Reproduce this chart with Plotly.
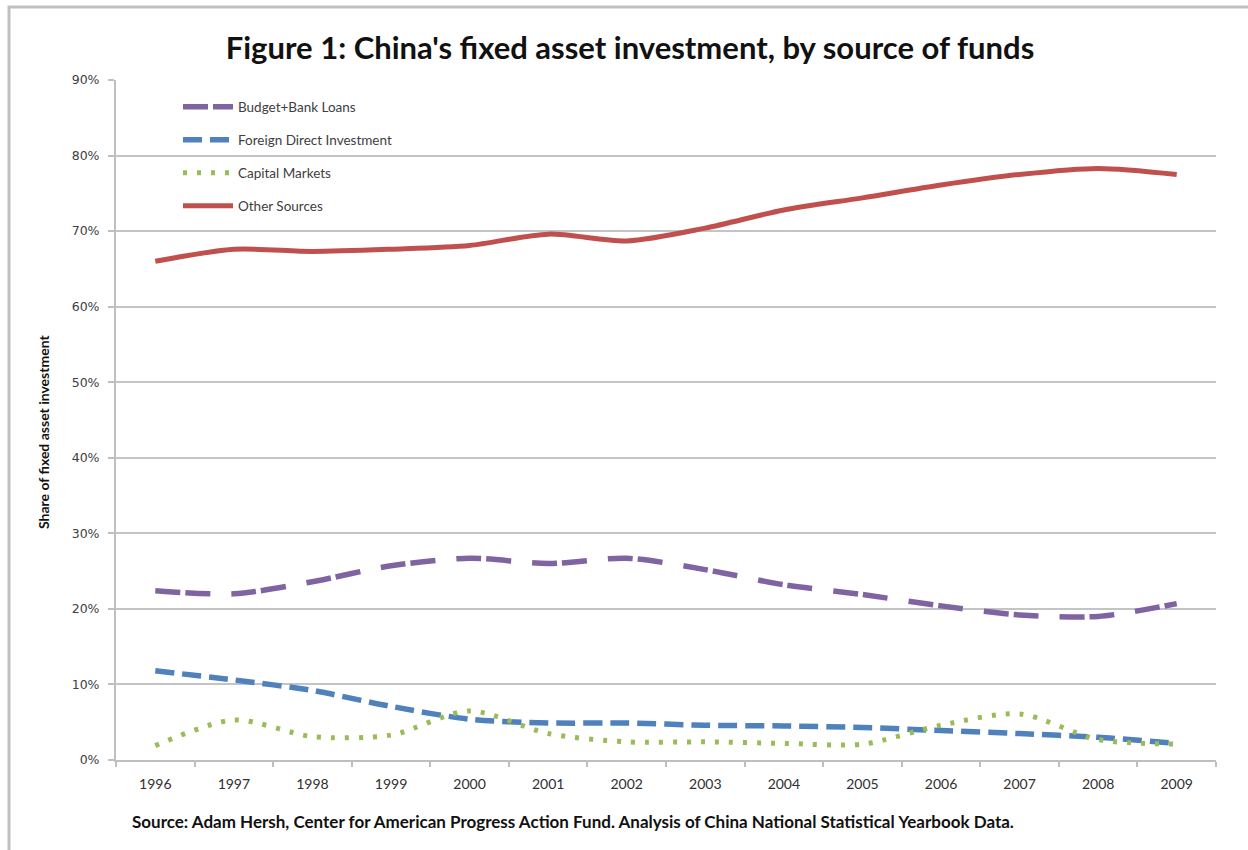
import plotly.graph_objects as go

years = ["1996", "1997", "1998", "1999", "2000", "2001", "2002",
         "2003", "2004", "2005", "2006", "2007", "2008", "2009"]
budget_bank = [22.4, 22.0, 23.6, 25.7, 26.7, 26.0, 26.7, 25.2, 23.2, 21.9, 20.4, 19.2, 19.0, 20.7]
fdi = [11.8, 10.6, 9.2, 7.1, 5.4, 4.9, 4.9, 4.6, 4.5, 4.3, 3.9, 3.5, 3.0, 2.2]
capital_markets = [1.9, 5.3, 3.1, 3.3, 6.5, 3.5, 2.4, 2.4, 2.2, 2.1, 4.6, 6.1, 2.7, 2.1]
other_sources = [66.0, 67.6, 67.3, 67.6, 68.1, 69.6, 68.7, 70.4, 72.8, 74.4, 76.1, 77.5, 78.3, 77.5]

series_names = ["Budget+Bank Loans", "Foreign Direct Investment", "Capital Markets", "Other Sources"]
y_ticks = [0, 10, 20, 30, 40, 50, 60, 70, 80, 90]

W, H = 1248, 850
L, R, T, B = 116, 1216, 80, 760
pw, ph = R - L, B - T

def px_x(x):
    return (x - L) / pw

def px_y(y):
    return (B - y) / ph

fig = go.Figure()
styles = [
    dict(color="#8064A2", width=5.5, dash="25px,5px,25px,21px"),
    dict(color="#4F81BD", width=5.5, dash="19px,8px"),
    dict(color="#9BBB59", width=5, dash="4px,10px"),
    dict(color="#C0504D", width=5, dash="solid"),
]
data = [budget_bank, fdi, capital_markets, other_sources]
legend_ids = ["legend", "legend2", "legend3", "legend4"]
for name, vals, st, lg in zip(series_names, data, styles, legend_ids):
    fig.add_trace(go.Scatter(
        x=years, y=vals, name=name, mode="lines",
        line=dict(shape="spline", smoothing=0.8, **st),
        legend=lg,
    ))

legend_centers = [107, 140, 173, 206]
legend_common = dict(
    xanchor="left", yanchor="middle", bgcolor="rgba(0,0,0,0)",
    font=dict(family="Lato", size=13.5, color="#404040"),
    itemwidth=50, borderwidth=0,
)
layout_legends = {}
for lg, cy in zip(legend_ids, legend_centers):
    layout_legends[lg] = dict(x=px_x(178), y=px_y(cy), **legend_common)

fig.update_layout(
    width=W, height=H,
    margin=dict(l=L, r=W - R, t=T, b=H - B),
    paper_bgcolor="white", plot_bgcolor="white",
    showlegend=True,
    title=dict(
        text="<b>Figure 1: China's fixed asset investment, by source of funds</b>",
        x=630 / W, xref="container", xanchor="center",
        y=1 - 48 / H, yref="container", yanchor="middle",
        font=dict(family="Lato", size=31, color="#111111"),
    ),
    xaxis=dict(
        type="category", range=[-0.5, 13.5],
        showgrid=False, showline=True, linecolor="#BFBFBF", linewidth=2,
        ticks="outside", tickson="boundaries", ticklen=5, tickcolor="#BFBFBF", tickwidth=2,
        tickfont=dict(family="Lato", size=14, color="#303030"),
        ticklabelstandoff=10,
        zeroline=False,
    ),
    yaxis=dict(
        range=[0, 90], tickvals=y_ticks, ticktext=[f"{v}%" for v in y_ticks],
        showgrid=True, gridcolor="#C4C4C4", gridwidth=2,
        showline=True, linecolor="#BFBFBF", linewidth=2,
        ticks="outside", ticklen=6, tickcolor="#BFBFBF", tickwidth=2,
        tickfont=dict(family="DejaVu Sans", size=12.5, color="#404040"),
        ticklabelstandoff=6,
        zeroline=False,
        title=dict(text=""),
    ),
    **layout_legends,
    shapes=[
        # legend background masking the gridline
        dict(type="rect", xref="paper", yref="paper",
             x0=px_x(141), x1=px_x(475), y0=px_y(90), y1=px_y(225),
             fillcolor="white", line=dict(width=0), layer="between"),
        # outer chart frame
        dict(type="rect", xref="paper", yref="paper",
             x0=px_x(9), x1=px_x(1260), y0=px_y(870), y1=px_y(7),
             fillcolor="rgba(0,0,0,0)", line=dict(color="#C0C0C0", width=3),
             layer="below"),
    ],
    annotations=[
        dict(
            text="<b>Source: Adam Hersh, Center for American Progress Action Fund. Analysis of China National Statistical Yearbook Data.</b>",
            xref="paper", yref="paper", x=px_x(130), y=px_y(822),
            xanchor="left", yanchor="middle", showarrow=False,
            font=dict(family="Lato", size=17, color="#111111"),
        ),
        dict(
            text="<b>Share of fixed asset investment</b>",
            xref="paper", yref="paper", x=px_x(44), y=px_y(432),
            xanchor="center", yanchor="middle", showarrow=False, textangle=-90,
            font=dict(family="Lato", size=14, color="#111111"),
        ),
    ],
)

fig.write_html("out.html")
